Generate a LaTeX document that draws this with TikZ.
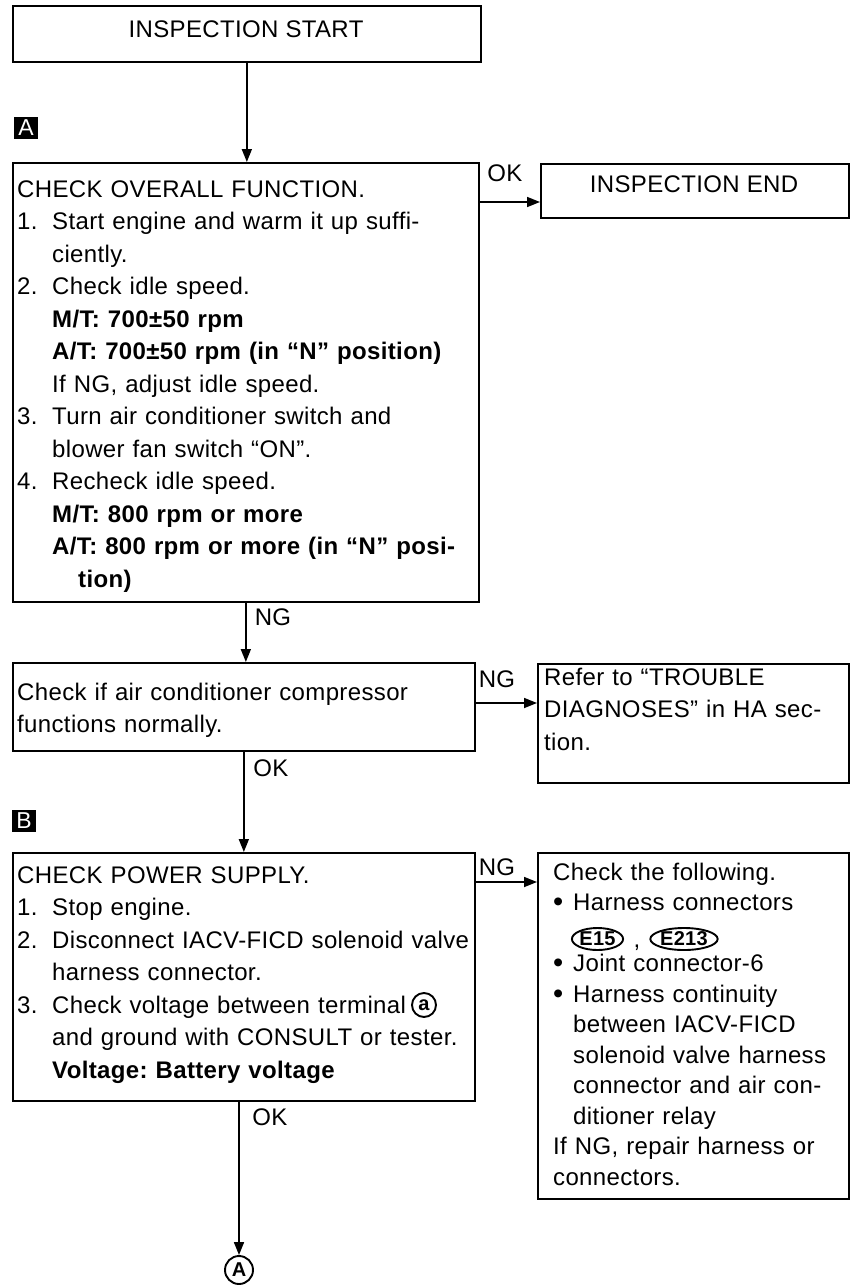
\documentclass[tikz,border=0pt]{standalone}
\usepackage{fontspec}
\setmainfont{Liberation Sans}[LetterSpace=1.5]
\usetikzlibrary{arrows.meta,shapes.geometric,calc}
\newcommand\nmb[1]{\makebox[35pt][l]{#1}}
\newcommand\myind{\hspace*{35pt}}
\newcommand\myindB{\hspace*{20pt}}
\newcommand\mybul{\makebox[20pt][l]{\raisebox{-1pt}{\fontsize{29}{29}\selectfont\textbullet}}}
\begin{document}
\frenchspacing
\begin{tikzpicture}[x=1pt,y=-1pt,
  box/.style={draw,line width=1.7pt,inner sep=0pt,anchor=north west},
  txt/.style={anchor=base west,align=left,inner sep=0pt,text width=#1,font=\fontsize{24}{32.5}\selectfont\frenchspacing},
  lbl/.style={anchor=base,inner sep=0pt,font=\fontsize{24}{24}\selectfont},
  arr/.style={line width=1.7pt,-{Triangle[length=13pt,width=10pt]}},
  tagbox/.style={fill=black,text=white,minimum width=24pt,minimum height=22pt,inner sep=0pt,font=\fontsize{23}{23}\selectfont},
  connov/.style={ellipse,draw,line width=1.9pt,inner sep=0pt,font=\bfseries\fontsize{20}{20}\selectfont},
  circmark/.style={circle,draw,line width=1.9pt,inner sep=0pt,font=\bfseries\fontsize{20}{20}\selectfont}
]
\useasboundingbox (0,0) rectangle (853,1285);

% boxes
\node[box,minimum width=468pt,minimum height=56pt] (start) at (12,5) {};
\node[box,minimum width=466pt,minimum height=439pt] (check) at (12,162) {};
\node[box,minimum width=308pt,minimum height=54pt] (end) at (540,163) {};
\node[box,minimum width=462pt,minimum height=88pt] (comp) at (12,662) {};
\node[box,minimum width=311pt,minimum height=119pt] (refer) at (537,663) {};
\node[box,minimum width=462pt,minimum height=248pt] (power) at (12,852) {};
\node[box,minimum width=311pt,minimum height=346pt] (follow) at (537,852) {};

% tags
\node[tagbox] (tagA) at (26,128) {A};
\node[tagbox] (tagB) at (24,821) {B};

% texts
\node[lbl] (startT) at (246,37) {INSPECTION START};
\node[lbl] (endT) at (694,192) {INSPECTION END};

\node[txt=455pt] (checkT) at (17,197) {CHECK OVERALL FUNCTION.\\
\nmb{1.}Start engine and warm it up suffi-\\
\myind ciently.\\
\nmb{2.}Check idle speed.\\
\myind\textbf{M/T: 700±50 rpm}\\
\myind\textbf{A/T: 700±50 rpm (in “N” position)}\\
\myind If NG, adjust idle speed.\\
\nmb{3.}Turn air conditioner switch and\\
\myind blower fan switch “ON”.\\
\nmb{4.}Recheck idle speed.\\
\myind\textbf{M/T: 800 rpm or more}\\
\myind\textbf{A/T: 800 rpm or more (in “N” posi-}\\
\hspace*{61pt}\textbf{tion)}};

\node[txt=450pt] (compT) at (17,700) {Check if air conditioner compressor\\
functions normally.};

\node[txt=300pt] (referT) at (544,685) {Refer to “TROUBLE\\
DIAGNOSES” in HA sec-\\
tion.};

\node[txt=455pt] (powerT) at (17,883) {CHECK POWER SUPPLY.\\
\nmb{1.}Stop engine.\\
\nmb{2.}Disconnect IACV-FICD solenoid valve\\
\myind harness connector.\\
\nmb{3.}Check voltage between terminal\\
\myind and ground with CONSULT or tester.\\
\myind\textbf{Voltage: Battery voltage}};
\node[circmark,minimum size=24pt] (terma) at (424,1005) {a};

\node[txt=295pt,font=\fontsize{24}{30.5}\selectfont\frenchspacing] (followT) at (553,880) {Check the following.\\
\mybul Harness connectors\\
\mbox{}\\
\mybul Joint connector-6\\
\mybul Harness continuity\\
\myindB between IACV-FICD\\
\myindB solenoid valve harness\\
\myindB connector and air con-\\
\myindB ditioner relay\\
If NG, repair harness or\\
connectors.};
\node[connov,minimum width=43pt,minimum height=22pt] (e15) at (597.5,939) {E15};
\node[lbl] (comma) at (637,947) {,};
\node[connov,minimum width=52pt,minimum height=22pt] (e213) at (684,939) {E213};

\node[circmark,minimum size=28pt] (circA) at (239,1270) {A};

% connectors
\draw[arr] (start.south) -- (start.south |- check.north);
\draw[arr] (check.east |- 0,202) -- (end.west |- 0,202);
\node[lbl] (okA) at (505,181) {OK};
\draw[arr] (check.south) -- (check.south |- comp.north);
\node[lbl] (ngA) at (273,625) {NG};
\draw[arr] (comp.east |- 0,703) -- (refer.west |- 0,703);
\node[lbl] (ngB) at (497,687) {NG};
\draw[arr] (comp.south) -- (comp.south |- power.north);
\node[lbl] (okB) at (271,776) {OK};
\draw[arr] (power.east |- 0,882) -- (follow.west |- 0,882);
\node[lbl] (ngC) at (497,875) {NG};
\draw[arr] (power.south -| circA) -- (circA.north);
\node[lbl] (okC) at (270,1125) {OK};
\end{tikzpicture}
\end{document}
